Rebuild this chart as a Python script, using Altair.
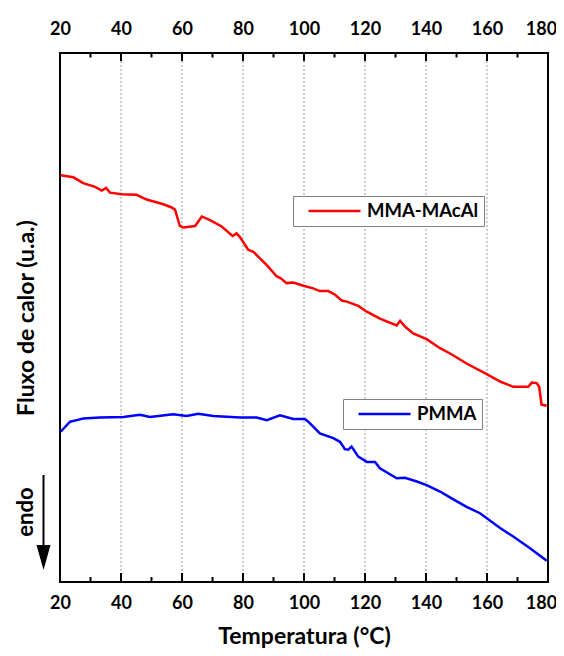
import altair as alt
import pandas as pd

# ---- data (Temperature in °C, heat flow in arbitrary units) ----
red_T = [20.2, 24.4, 27.6, 31.5, 33.7, 35.1, 36.4, 40.2, 45.1, 48.4, 53.9, 56.6, 57.7, 59.3,
         60.4, 64.3, 66.5, 69.2, 73.0, 76.6, 77.9, 79.0, 81.7, 83.4, 87.8, 91.0, 92.4, 94.3,
         96.5, 99.8, 103.0, 105.2, 108.0, 110.2, 112.4, 114.0, 117.8, 120.6, 124.9, 130.4,
         131.5, 133.1, 135.8, 140.2, 144.6, 147.9, 153.3, 159.9, 164.3, 168.6, 173.5, 174.7,
         176.3, 177.1, 177.9, 179.6]
red_flux = [76.9, 76.5, 75.4, 74.7, 74.0, 74.5, 73.6, 73.3, 73.2, 72.3, 71.4, 70.8, 70.4, 67.3,
            67.0, 67.3, 69.1, 68.4, 67.2, 65.4, 65.9, 65.2, 62.8, 62.4, 59.9, 57.8, 57.4, 56.5,
            56.6, 56.0, 55.5, 55.0, 55.0, 54.3, 53.2, 53.0, 52.2, 51.1, 49.8, 48.5,
            49.4, 48.3, 47.0, 45.9, 44.2, 43.2, 41.3, 39.3, 37.9, 36.9, 36.9, 37.7,
            37.6, 36.9, 33.5, 33.3]

blue_T = [20.2, 23.3, 25.5, 27.6, 33.1, 40.8, 46.2, 49.5, 57.1, 61.5, 65.3, 70.3, 79.0, 84.5,
          87.8, 92.1, 96.5, 100.3, 101.4, 105.2, 109.6, 111.8, 113.4, 114.5, 115.6, 117.8,
          120.6, 123.3, 124.9, 130.4, 133.1, 137.0, 140.2, 144.6, 148.4, 153.3, 157.7, 164.3,
          168.6, 174.1, 179.6]
blue_flux = [28.4, 30.3, 30.6, 30.9, 31.1, 31.2, 31.6, 31.2, 31.7, 31.4, 31.8, 31.4, 31.1, 31.1,
             30.6, 31.5, 30.8, 30.8, 30.3, 28.1, 27.2, 26.5, 25.1, 25.0, 25.6, 23.7,
             22.7, 22.7, 21.5, 19.6, 19.7, 19.0, 18.3, 17.1, 15.8, 14.2, 13.0, 10.2,
             8.6, 6.4, 4.0]

series_names = ["MMA-MAcAl", "PMMA"]
series_colors = ["#ff0000", "#0000ff"]

x_major = [20, 40, 60, 80, 100, 120, 140, 160, 180]
x_minor = [30, 50, 70, 90, 110, 130, 150, 170]
x_grid = [40, 60, 80, 100, 120, 140, 160]

red_df = pd.DataFrame({"T": red_T, "flux": red_flux, "serie": series_names[0]})
blue_df = pd.DataFrame({"T": blue_T, "flux": blue_flux, "serie": series_names[1]})
major_df = pd.DataFrame({"v": x_major})
minor_df = pd.DataFrame({"v": x_minor})
grid_df = pd.DataFrame({"v": x_grid})

FONT = "Lato"
H = 529
xscale = alt.Scale(domain=[20, 180], nice=False, zero=False)
yscale = alt.Scale(domain=[0, 100], nice=False, zero=False)

yenc = alt.Y("flux:Q", scale=yscale,
             axis=alt.Axis(title="Fluxo de calor (u.a.)", labels=False, ticks=False,
                           domain=False, grid=False, titleFont=FONT, titleFontSize=23,
                           titleFontWeight="bold", titleColor="black", titleAngle=270,
                           titleX=-27, titleY=H / 2, titleAlign="center",
                           titleBaseline="alphabetic"))

# keep the last label ("180") inside the page edge
last_label_shift = {"condition": {"test": "datum.value == 180", "value": -7}, "value": 0}


def label_axis(orient, pad, title):
    kw = dict(orient=orient, values=x_major, ticks=False, tickSize=0, domain=False,
              grid=False, format="d", labelFont=FONT, labelFontSize=18,
              labelFontWeight="bold", labelColor="black", labelFlush=False,
              labelPadding=pad, labelBaseline="alphabetic", labelOffset=last_label_shift)
    if title:
        kw.update(title=title, titleFont=FONT, titleFontSize=23, titleFontWeight="bold",
                  titleColor="black", titleY=61, titleBaseline="alphabetic")
    else:
        kw.update(title=None)
    return alt.Axis(**kw)


def legend(x, y):
    return alt.Legend(title=None, orient="none", legendX=x, legendY=y, symbolType="stroke",
                      symbolSize=2704, symbolStrokeWidth=2.5, labelFont=FONT,
                      labelFontSize=18.5, labelFontWeight="bold", labelColor="black",
                      labelOffset=5, symbolOffset=9, padding=5, clipHeight=20,
                      strokeColor="#808080", fillColor="white")


grid = alt.Chart(grid_df).mark_rule(color="#9a9a9a", strokeWidth=1, strokeDash=[2, 2]).encode(
    x=alt.X("v:Q", scale=xscale, axis=None))


def ticks(df, y0, y1):
    return alt.Chart(df).mark_rule(color="black", strokeWidth=2).encode(
        x=alt.X("v:Q", scale=xscale, axis=None), y=alt.value(y0), y2=alt.value(y1))


tick_layers = [
    ticks(major_df, H - 9, H),
    ticks(minor_df, H - 5, H),
    ticks(major_df, 0, 8),
    ticks(minor_df, 0, 4.5),
]

red_line = alt.Chart(red_df).mark_line(strokeWidth=2.5).encode(
    x=alt.X("T:Q", scale=xscale, axis=label_axis("bottom", 26, "Temperatura (°C)")),
    y=yenc,
    color=alt.Color("serie:N", scale=alt.Scale(domain=[series_names[0]], range=[series_colors[0]]),
                    legend=legend(233, 143)),
)

blue_line = alt.Chart(blue_df).mark_line(strokeWidth=2.5).encode(
    x=alt.X("T:Q", scale=xscale, axis=label_axis("top", 19, None)),
    y=yenc,
    color=alt.Color("serie:N", scale=alt.Scale(domain=[series_names[1]], range=[series_colors[1]]),
                    legend=legend(283, 346)),
)

one = pd.DataFrame({"k": [0]})
endo = alt.Chart(one).mark_text(text="endo", angle=270, font=FONT, fontSize=22,
                                fontWeight="bold", color="black", align="center",
                                baseline="middle").encode(x=alt.value(-34), y=alt.value(459))
arrow_shaft = alt.Chart(one).mark_rule(color="black", strokeWidth=2).encode(
    x=alt.value(-16.5), y=alt.value(422), y2=alt.value(496))
arrow_head = alt.Chart(one).mark_point(shape="M-0.56,-1L0.56,-1L0,1Z", filled=True,
                                       color="black", size=625, opacity=1).encode(
    x=alt.value(-16.5), y=alt.value(504.5))

chart = alt.layer(grid, *tick_layers, red_line, blue_line, endo, arrow_shaft,
                  arrow_head).resolve_scale(
    color="independent"
).resolve_axis(
    x="independent"
).properties(
    width=488, height=H,
    autosize=alt.AutoSizeParams(type="none"),
    padding={"left": 52, "top": 45, "right": 8, "bottom": 66},
).configure_view(
    stroke="black", strokeWidth=2
)

chart.save("out.html", embed_options={"renderer": "svg", "actions": False})
